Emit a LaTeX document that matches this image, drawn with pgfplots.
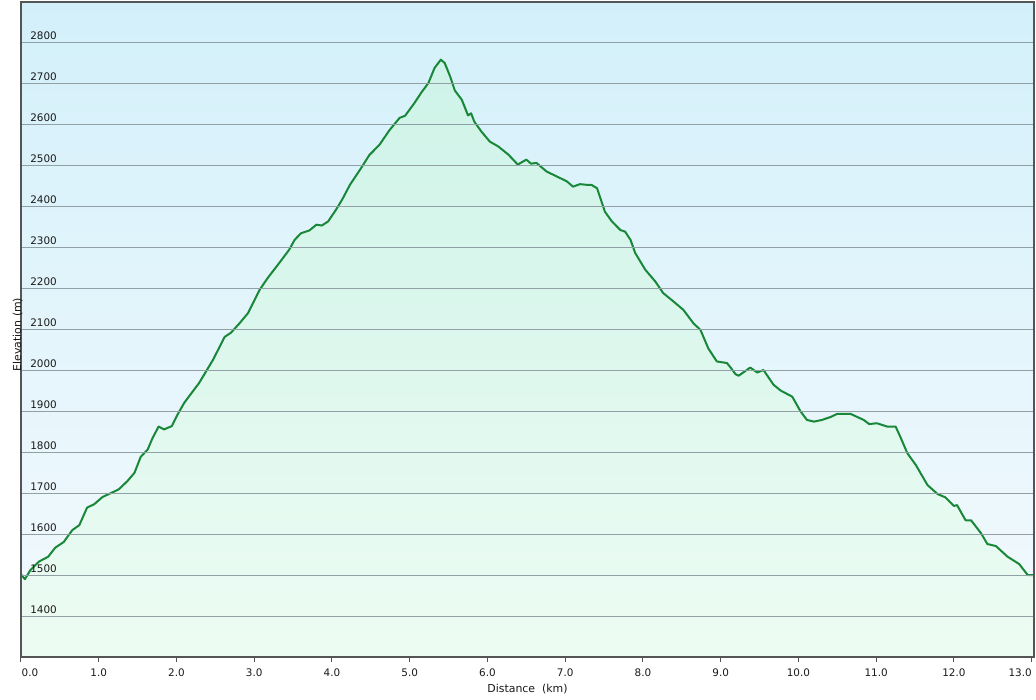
\documentclass[border=0pt]{standalone}
\usepackage{fontspec}
\setmainfont{DejaVu Sans}
\usepackage{pgfplots}
\pgfplotsset{compat=1.18}
\definecolor{linegreen}{RGB}{24,135,56}
\definecolor{bgtop}{RGB}{211,240,250}
\definecolor{bgbot}{RGB}{244,250,253}
\definecolor{filltop}{RGB}{206,243,232}
\definecolor{fillbot}{RGB}{237,252,243}
\definecolor{gridc}{RGB}{145,160,165}
\definecolor{axisc}{RGB}{85,85,85}
\definecolor{labc}{RGB}{25,25,25}
\newcommand{\xl}[1]{\pgfmathprintnumber[fixed,fixed zerofill,precision=1]{#1}}
\begin{document}
\begin{tikzpicture}
\begin{axis}[
  scale only axis, width=759.75pt, height=491.25pt,
  xmin=0, xmax=13.03, ymin=1300, ymax=2900,
  axis on top,
  axis background/.style={top color=bgtop, bottom color=bgbot},
  axis line style={draw=axisc, line width=1pt},
  xtick={0,...,13}, ytick={1400,1500,...,2800},
  ymajorgrids, grid style={gridc, line width=0.75pt},
  major tick length=3.5pt,
  xtick pos=bottom, ytick pos=left,
  ytick style={draw=none},
  xtick style={axisc, line width=0.75pt, yshift=-3.5pt},
  /pgf/number format/assume math mode=true,
  /pgf/number format/1000 sep={},
  ticklabel style={font=\fontsize{7.8}{9}\selectfont, text=labc},
  xticklabel={\ifnum\ticknum=0 \makebox[0pt][l]{\hspace{0.5pt}\xl{\tick}}\else\ifnum\ticknum=13 \makebox[0pt][r]{\xl{\tick}}\else\xl{\tick}\fi\fi},
  xticklabel style={yshift=-5pt},
  yticklabel style={anchor=base west, xshift=3.5pt, yshift=2.25pt},
  xlabel={Distance\ \ (km)}, ylabel={Elevation (m)},
  label style={font=\fontsize{8.2}{9}\selectfont, text=labc},
  xlabel style={at={(axis description cs:0.5,0)}, anchor=base, yshift=-26.75pt},
  ylabel style={at={(axis description cs:0,0.5)}, anchor=base, xshift=-3.75pt},
  clip=true,
]
\pgfplotstableread[row sep=\\]{
x y\\
0.00 1502\\ 0.05 1490\\ 0.12 1512\\ 0.23 1533\\ 0.35 1545\\ 0.44 1567\\ 0.55 1581\\ 0.66 1610\\ 0.75 1622\\ 0.85 1665\\ 0.94 1673\\ 1.05 1691\\ 1.22 1706\\ 1.26 1710\\ 1.37 1730\\ 1.46 1750\\ 1.54 1789\\ 1.63 1807\\ 1.69 1834\\ 1.77 1863\\ 1.84 1856\\ 1.94 1864\\ 2.01 1891\\ 2.10 1921\\ 2.29 1969\\ 2.47 2026\\ 2.62 2082\\ 2.70 2092\\ 2.81 2115\\ 2.92 2140\\ 3.07 2197\\ 3.17 2225\\ 3.32 2262\\ 3.45 2295\\ 3.52 2319\\ 3.60 2335\\ 3.71 2342\\ 3.80 2356\\ 3.87 2354\\ 3.95 2364\\ 4.05 2392\\ 4.13 2417\\ 4.23 2453\\ 4.36 2490\\ 4.48 2526\\ 4.61 2551\\ 4.74 2587\\ 4.87 2617\\ 4.94 2622\\ 5.06 2653\\ 5.15 2679\\ 5.24 2702\\ 5.32 2739\\ 5.40 2759\\ 5.45 2751\\ 5.52 2718\\ 5.58 2684\\ 5.67 2661\\ 5.75 2623\\ 5.79 2628\\ 5.83 2608\\ 5.92 2584\\ 6.03 2559\\ 6.14 2547\\ 6.27 2527\\ 6.39 2503\\ 6.50 2515\\ 6.56 2505\\ 6.63 2507\\ 6.76 2486\\ 6.89 2474\\ 7.02 2462\\ 7.10 2449\\ 7.19 2455\\ 7.30 2453\\ 7.34 2453\\ 7.41 2445\\ 7.51 2388\\ 7.60 2364\\ 7.71 2343\\ 7.77 2339\\ 7.84 2319\\ 7.90 2287\\ 8.03 2246\\ 8.16 2217\\ 8.26 2189\\ 8.37 2172\\ 8.52 2148\\ 8.65 2115\\ 8.74 2099\\ 8.84 2054\\ 8.95 2022\\ 9.08 2018\\ 9.12 2009\\ 9.19 1991\\ 9.23 1987\\ 9.38 2007\\ 9.47 1995\\ 9.55 2001\\ 9.68 1965\\ 9.77 1951\\ 9.92 1936\\ 10.03 1899\\ 10.11 1879\\ 10.20 1875\\ 10.30 1879\\ 10.41 1886\\ 10.50 1894\\ 10.67 1894\\ 10.76 1886\\ 10.84 1879\\ 10.91 1869\\ 11.01 1871\\ 11.14 1863\\ 11.25 1863\\ 11.31 1838\\ 11.40 1798\\ 11.51 1769\\ 11.66 1720\\ 11.79 1698\\ 11.89 1690\\ 12.00 1669\\ 12.04 1671\\ 12.15 1634\\ 12.22 1634\\ 12.35 1602\\ 12.43 1576\\ 12.54 1571\\ 12.69 1545\\ 12.84 1527\\ 12.95 1500\\ 13.03 1500\\
}\elev
\addplot[draw=none, top color=filltop, bottom color=fillbot] table {\elev} \closedcycle;
\addplot[linegreen, line width=1.5pt, line join=round] table {\elev};
\end{axis}
\pgfresetboundingbox
\useasboundingbox ([xshift=-15.75pt, yshift=-32.25pt]current axis.south west) rectangle ([xshift=1.5pt, yshift=1.5pt]current axis.north east);
\end{tikzpicture}
\end{document}
